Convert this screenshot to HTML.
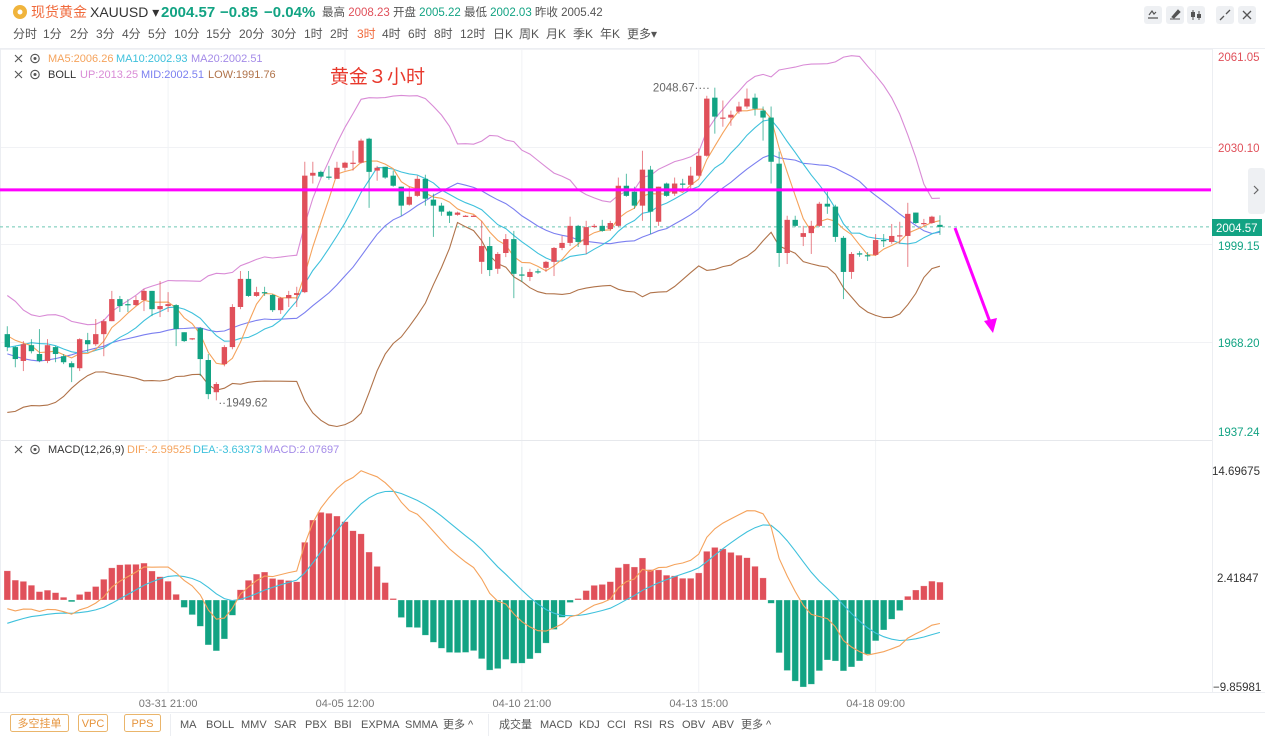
<!DOCTYPE html>
<html><head><meta charset="utf-8">
<style>
body{margin:0;background:#fff;width:1265px;height:736px;overflow:hidden;font-family:"Liberation Sans","Noto Sans CJK SC",sans-serif;}
svg{display:block}
text{font-family:"Liberation Sans","Noto Sans CJK SC",sans-serif;}
</style></head>
<body>
<svg id="chart" width="1265" height="736" viewBox="0 0 1265 736" xmlns="http://www.w3.org/2000/svg">
<rect x="0" y="0" width="1265" height="736" fill="#fff"/>
<g>
<circle cx="20" cy="12" r="7" fill="#f0b43c"/>
<circle cx="20" cy="12" r="2.5" fill="#fff"/>
<text x="31" y="17" font-size="14" fill="#f06a3c">现货黄金</text>
<text x="90" y="17" font-size="14" fill="#333">XAUUSD ▾</text>
<text x="161" y="17" font-size="15" font-weight="bold" fill="#12a383">2004.57</text>
<text x="220" y="17" font-size="15" font-weight="bold" fill="#12a383">−0.85</text>
<text x="264" y="17" font-size="15" font-weight="bold" fill="#12a383">−0.04%</text>
<text x="322" y="16" font-size="11.5" fill="#555">最高 <tspan fill="#e0505a">2008.23</tspan> 开盘 <tspan fill="#12a383">2005.22</tspan> 最低 <tspan fill="#12a383">2002.03</tspan> 昨收 <tspan fill="#555">2005.42</tspan></text>
</g>
<g font-size="12" fill="#555">
<text x="13" y="38">分时</text>
<text x="43" y="38">1分</text>
<text x="70" y="38">2分</text>
<text x="96" y="38">3分</text>
<text x="122" y="38">4分</text>
<text x="148" y="38">5分</text>
<text x="174" y="38">10分</text>
<text x="206" y="38">15分</text>
<text x="239" y="38">20分</text>
<text x="271" y="38">30分</text>
<text x="304" y="38">1时</text>
<text x="330" y="38">2时</text>
<text x="357" y="38" fill="#f06a3c">3时</text>
<text x="382" y="38">4时</text>
<text x="408" y="38">6时</text>
<text x="434" y="38">8时</text>
<text x="460" y="38">12时</text>
<text x="493" y="38">日K</text>
<text x="519" y="38">周K</text>
<text x="546" y="38">月K</text>
<text x="573" y="38">季K</text>
<text x="600" y="38">年K</text>
<text x="627" y="38">更多▾</text>
</g>
<g>
<rect x="1144" y="6" width="18" height="18" rx="3" fill="#eef0f3"/>
<rect x="1166" y="6" width="18" height="18" rx="3" fill="#eef0f3"/>
<rect x="1187" y="6" width="18" height="18" rx="3" fill="#eef0f3"/>
<rect x="1216" y="6" width="18" height="18" rx="3" fill="#eef0f3"/>
<rect x="1238" y="6" width="18" height="18" rx="3" fill="#eef0f3"/>
<path d="M1148 18h10M1149 15l3-4 2 3 2-2" stroke="#555" fill="none" stroke-width="1.2"/>
<path d="M1170 19h10M1172 17l6-7 2 2-6 6z" stroke="#555" fill="#555" stroke-width="1"/>
<path d="M1193 10v10M1199 11v9" stroke="#555" stroke-width="1"/><rect x="1191" y="12" width="4" height="5" fill="#555"/><rect x="1197" y="14" width="4" height="4" fill="#555"/>
<path d="M1220 20l4-4M1230 10l-4 4" stroke="#555" stroke-width="1.3"/>
<path d="M1243 11l8 8M1251 11l-8 8" stroke="#555" stroke-width="1.3"/>
</g>
<line x1="0" y1="48.5" x2="1265" y2="48.5" stroke="#eceef2"/>
<g id="grid"></g>
<g id="mainPane"></g>
<g id="macdPane"></g>
<g font-size="11">
<path d="M15 55l7 7M22 55l-7 7" stroke="#555" stroke-width="1.1"/>
<circle cx="35" cy="58.5" r="4.2" fill="none" stroke="#555" stroke-width="1.1"/><circle cx="35" cy="58.5" r="1.5" fill="#555"/>
<text x="48" y="62" fill="#f5a35c">MA5:2006.26</text>
<text x="116" y="62" fill="#3fc1dc">MA10:2002.93</text>
<text x="191" y="62" fill="#a48be8">MA20:2002.51</text>
</g>
<g font-size="11">
<path d="M15 71l7 7M22 71l-7 7" stroke="#555" stroke-width="1.1"/>
<circle cx="35" cy="74.5" r="4.2" fill="none" stroke="#555" stroke-width="1.1"/><circle cx="35" cy="74.5" r="1.5" fill="#555"/>
<text x="48" y="78" fill="#333">BOLL</text>
<text x="80" y="78" fill="#d98bd6">UP:2013.25</text>
<text x="141" y="78" fill="#7b7ff0">MID:2002.51</text>
<text x="208" y="78" fill="#b0734a">LOW:1991.76</text>
</g>
<text x="330" y="83" font-size="19" fill="#e8382c">黄金３小时</text>
<g font-size="11">
<path d="M15 446l7 7M22 446l-7 7" stroke="#555" stroke-width="1.1"/>
<circle cx="35" cy="449.5" r="4.2" fill="none" stroke="#555" stroke-width="1.1"/><circle cx="35" cy="449.5" r="1.5" fill="#555"/>
<text x="48" y="453" fill="#333">MACD(12,26,9)</text>
<text x="127" y="453" fill="#f5a35c">DIF:-2.59525</text>
<text x="193" y="453" fill="#3fc1dc">DEA:-3.63373</text>
<text x="264" y="453" fill="#a48be8">MACD:2.07697</text>
</g>
<line x1="1212.5" y1="49" x2="1212.5" y2="692" stroke="#eceef2"/>
<g font-size="11.5">
<text x="1218" y="61" fill="#e0505a">2061.05</text>
<text x="1218" y="152" fill="#e0505a">2030.10</text>
<text x="1218" y="250" fill="#12a383">1999.15</text>
<text x="1218" y="347" fill="#12a383">1968.20</text>
<text x="1218" y="436" fill="#12a383">1937.24</text>
</g>
<rect x="1212" y="219" width="50" height="17" fill="#12a383"/>
<text x="1216" y="232" font-size="11.5" fill="#fff">2004.57</text>
<rect x="1248" y="168" width="17" height="46" rx="3" fill="#eef0f3"/>
<path d="M1254 186l4 4-4 4" stroke="#666" fill="none" stroke-width="1.2"/>
<g font-size="11.5" fill="#333">
<text x="1212" y="475">14.69675</text>
<text x="1217" y="582">2.41847</text>
<text x="1213" y="691">−9.85981</text>
</g>
<line x1="0" y1="692.5" x2="1265" y2="692.5" stroke="#eceef2"/>
<line x1="0" y1="712.5" x2="1265" y2="712.5" stroke="#eceef2"/>
<g id="timeAxis" font-size="11" fill="#777"></g>
<g font-size="11">
<rect x="10.5" y="714.5" width="58" height="17" rx="2" fill="#fff" stroke="#eab56b"/>
<text x="39.5" y="727" text-anchor="middle" fill="#e6943c">多空挂单</text>
<rect x="78.5" y="714.5" width="29" height="17" rx="2" fill="#fff" stroke="#eab56b"/>
<text x="93" y="727" text-anchor="middle" fill="#e6943c">VPC</text>
<rect x="124.5" y="714.5" width="36" height="17" rx="2" fill="#fff" stroke="#eab56b"/>
<text x="142.5" y="727" text-anchor="middle" fill="#e6943c">PPS</text>
<line x1="170.5" y1="714" x2="170.5" y2="736" stroke="#eceef2"/>
<g fill="#555">
<text x="180" y="728">MA</text>
<text x="206" y="728">BOLL</text>
<text x="241" y="728">MMV</text>
<text x="274" y="728">SAR</text>
<text x="305" y="728">PBX</text>
<text x="334" y="728">BBI</text>
<text x="361" y="728">EXPMA</text>
<text x="405" y="728">SMMA</text>
<text x="443" y="728">更多 ^</text>
<text x="499" y="728">成交量</text>
<text x="540" y="728">MACD</text>
<text x="579" y="728">KDJ</text>
<text x="607" y="728">CCI</text>
<text x="634" y="728">RSI</text>
<text x="659" y="728">RS</text>
<text x="682" y="728">OBV</text>
<text x="712" y="728">ABV</text>
<text x="741" y="728">更多 ^</text>
</g>
<line x1="488.5" y1="714" x2="488.5" y2="736" stroke="#eceef2"/>
</g>
</svg>
<script>
// OHLC data [open, high, low, close]
const priorCloses=[1978,1982,1975,1968,1960,1955,1950,1948,1952,1955,1958,1962,1960,1965,1968,1970,1972,1969,1973];
const ohlc=[
[1970.6,1973.1,1965.2,1966.5],[1966.5,1966.8,1960.1,1962.7],[1962.1,1968.4,1958.9,1967.4],[1967.1,1969.0,1964.5,1965.2],
[1964.3,1972.2,1961.7,1962.1],[1962.1,1969.0,1961.4,1967.1],[1966.5,1966.8,1961.7,1964.3],[1963.6,1964.3,1961.1,1961.7],
[1961.4,1962.0,1955.4,1960.1],[1959.8,1969.3,1958.9,1969.0],[1968.7,1971.0,1964.9,1967.4],[1967.4,1975.4,1966.8,1970.6],
[1970.6,1975.4,1963.6,1974.7],[1974.7,1984.3,1974.7,1981.7],[1981.7,1982.7,1977.6,1979.5],[1980.1,1981.7,1977.6,1979.8],
[1979.8,1982.7,1979.5,1981.4],[1981.4,1984.9,1977.9,1984.3],[1984.3,1984.3,1976.3,1978.5],[1978.5,1987.4,1976.0,1979.5],
[1979.5,1983.9,1977.6,1980.1],[1979.8,1980.1,1966.8,1972.2],[1971.2,1971.2,1968.1,1968.4],[1969.0,1969.3,1968.7,1969.3],
[1972.5,1972.8,1957.3,1962.7],[1962.4,1964.3,1950.0,1951.6],[1952.2,1955.4,1949.62,1954.8],[1961.1,1967.1,1960.4,1966.5],
[1966.5,1980.1,1965.8,1979.2],[1979.2,1990.6,1978.5,1988.1],[1988.1,1990.6,1982.4,1982.7],[1982.7,1985.6,1982.4,1983.9],
[1983.9,1985.6,1982.7,1983.6],[1983.0,1983.3,1977.6,1978.2],[1978.2,1982.4,1977.0,1982.0],[1982.0,1984.3,1979.2,1983.0],
[1983.0,1985.6,1979.2,1983.6],[1983.9,2025.2,1983.6,2020.8],[2020.8,2025.2,2018.3,2021.7],[2022.0,2022.4,2020.2,2020.5],
[2020.5,2023.9,2019.5,2020.2],[2019.8,2025.2,2019.8,2023.3],[2023.3,2025.2,2022.4,2024.9],[2024.9,2028.7,2022.4,2024.9],
[2024.9,2032.5,2024.6,2031.9],[2032.5,2032.8,2010.6,2022.0],[2022.4,2023.9,2019.2,2023.3],[2023.6,2023.6,2019.8,2020.2],
[2020.8,2022.4,2017.3,2017.6],[2017.3,2017.3,2008.1,2011.3],[2011.6,2017.3,2011.3,2014.1],[2014.4,2020.8,2014.1,2019.8],
[2019.8,2021.1,2011.3,2013.5],[2013.2,2015.1,2001.4,2011.3],[2011.3,2012.2,2008.1,2009.4],[2009.4,2009.7,2005.8,2008.1],
[2008.4,2009.4,2008.1,2009.1],[2008.0,2008.3,2008.0,2008.1],[2008.0,2008.3,2008.0,2008.1],[1993.5,2006.5,1989.7,1998.5],
[1998.5,2001.4,1989.0,1990.9],[1991.3,1996.6,1989.7,1996.0],[1996.3,2002.3,1995.0,2000.7],[2000.7,2003.3,1982.0,1989.7],
[1989.5,1991.9,1987.1,1989.3],[1988.7,1991.3,1987.4,1990.3],[1990.5,1991.3,1989.7,1990.3],[1991.6,1993.8,1990.3,1993.5],
[1993.5,1998.2,1989.0,1997.9],[1997.9,2001.7,1997.2,1999.5],[1999.5,2007.8,1998.5,2004.9],[2004.9,2005.2,1998.2,1999.8],
[1998.8,2006.5,1996.0,2004.5],[2004.7,2005.5,2004.2,2004.9],[2004.9,2006.8,2003.0,2003.3],[2003.9,2006.5,2003.3,2005.8],
[2004.9,2020.2,2004.5,2017.6],[2017.6,2021.4,2014.1,2014.4],[2015.7,2017.3,2010.3,2011.3],[2011.3,2028.7,2006.5,2022.7],
[2022.7,2023.9,2002.3,2009.4],[2006.2,2017.3,2004.9,2017.3],[2018.3,2018.6,2014.1,2014.4],[2015.1,2020.2,2014.4,2018.3],
[2018.3,2019.8,2016.7,2018.0],[2017.9,2023.6,2016.0,2020.8],[2020.8,2029.4,2020.5,2027.1],[2027.1,2046.1,2026.8,2045.2],
[2045.5,2048.67,2034.1,2039.5],[2039.2,2044.6,2036.3,2039.2],[2039.2,2041.4,2036.6,2040.1],[2041.1,2044.2,2040.4,2042.7],
[2042.7,2048.4,2042.0,2045.2],[2045.5,2046.8,2039.8,2042.0],[2041.4,2042.7,2031.9,2039.2],[2039.2,2042.7,2018.3,2025.2],
[2024.6,2028.4,1991.9,1996.3],[1996.3,2008.1,1992.8,2006.8],[2006.8,2008.1,2004.5,2004.9],[2001.4,2004.9,1998.5,2002.6],
[2002.6,2006.5,1996.0,2004.9],[2004.9,2012.5,2004.5,2011.9],[2011.9,2015.7,2008.7,2011.0],[2011.0,2011.6,1999.8,2001.4],
[2001.1,2001.7,1981.7,1990.3],[1990.3,1996.6,1988.1,1996.0],[1996.2,1996.9,1995.1,1995.8],[1995.6,1996.6,1993.8,1995.3],
[1995.7,2002.3,1995.4,2000.4],[2000.4,2002.3,1998.2,2000.2],[1999.8,2005.5,1999.2,2001.7],[2001.6,2006.2,1999.2,2001.9],
[2001.7,2012.2,1991.9,2008.7],[2009.1,2009.1,2005.5,2005.8],[2005.8,2007.1,2004.9,2005.8],[2005.8,2008.1,2005.5,2007.8],
[2005.22,2008.23,2002.03,2004.57]];
const timeLabels=["03-31 21:00","04-05 12:00","04-10 21:00","04-13 15:00","04-18 09:00"];
const timeLabelIdx=[20,42,64,86,108];
const lastPrice=2004.57;
const resistanceLevel=2016.3;

const NS="http://www.w3.org/2000/svg";
const xOf=i=>7.3+i*8.04;
const yP=p=>244-(p-1999.15)*3.157;
const yM=v=>600-v*8.76;
const RED="#e0505a",GREEN="#12a383";
function mk(tag,attrs,parent){const e=document.createElementNS(NS,tag);for(const k in attrs)e.setAttribute(k,attrs[k]);parent.appendChild(e);return e;}

const grid=document.getElementById('grid');
[49,147,244,342].forEach(y=>{const l=mk('line',{x1:0,x2:1212,y1:y+.5,y2:y+.5,stroke:'#f1f2f5'},grid);

});
timeLabelIdx.forEach(i=>{const l=mk('line',{x1:xOf(i),x2:xOf(i),y1:49,y2:692,stroke:'#f1f2f5'},grid);

});
mk('line',{x1:0,x2:1212,y1:440.5,y2:440.5,stroke:'#e6e8ec'},grid);
mk('line',{x1:0.5,x2:0.5,y1:49,y2:692,stroke:'#eceef2'},grid);

const closes=ohlc.map(d=>d[3]);
const all=priorCloses.concat(closes);
const off=priorCloses.length;
function ma(n,i){const j=i+off;const s=all.slice(Math.max(0,j-n+1),j+1);return s.reduce((a,b)=>a+b,0)/s.length;}
function sd(n,i){const j=i+off;const s=all.slice(Math.max(0,j-n+1),j+1);const m=s.reduce((a,b)=>a+b,0)/s.length;return Math.sqrt(s.reduce((a,b)=>a+(b-m)*(b-m),0)/s.length);}

const main=document.getElementById('mainPane');
mk('line',{x1:0,x2:1212,y1:yP(lastPrice),y2:yP(lastPrice),stroke:'#6cc7b3','stroke-dasharray':'3,3'},main);
function poly(vals,color,w,name){const pts=vals.map((v,i)=>xOf(i).toFixed(1)+','+v.toFixed(1)).join(' ');
const p=mk('polyline',{points:pts,fill:'none',stroke:color,'stroke-width':w},main);

}
const idx=closes.map((c,i)=>i);
poly(idx.map(i=>yP(ma(20,i)+2*sd(20,i))),'#d98bd6',1.1,'boll-up-line');
poly(idx.map(i=>yP(ma(20,i)-2*sd(20,i))),'#b0734a',1.1,'boll-low-line');
poly(idx.map(i=>yP(ma(20,i))),'#7b7ff0',1.1,'boll-mid-line');
poly(idx.map(i=>yP(ma(10,i))),'#3fc1dc',1.1,'ma10-line');
poly(idx.map(i=>yP(ma(5,i))),'#f5a35c',1.1,'ma5-line');

ohlc.forEach((d,i)=>{const [o,h,l,c]=d;const up=c>=o;const col=up?RED:GREEN;const x=xOf(i);
const g=mk('g',{},main);


mk('line',{x1:x,x2:x,y1:yP(h),y2:yP(l),stroke:col,'stroke-width':1,opacity:0.7},g);
const t=yP(Math.max(o,c)),b=yP(Math.min(o,c));
mk('rect',{x:x-2.7,y:t,width:5.4,height:Math.max(1.2,b-t),fill:col},g);});

let hi=0,lo=0;ohlc.forEach((d,i)=>{if(d[1]>ohlc[hi][1])hi=i;if(d[2]<ohlc[lo][2])lo=i;});
const hT=mk('text',{x:xOf(hi)-5,y:yP(ohlc[hi][1])+4,'font-size':11.5,fill:'#666','text-anchor':'end'},main);
hT.textContent=ohlc[hi][1].toFixed(2)+'····';


const lT=mk('text',{x:xOf(lo)+2,y:yP(ohlc[lo][2])+6,'font-size':11.5,fill:'#666'},main);
lT.textContent='··'+ohlc[lo][2].toFixed(2);



const rl=mk('line',{x1:0,x2:1211,y1:yP(resistanceLevel),y2:yP(resistanceLevel),stroke:'#ff00ff','stroke-width':3},main);


const ar=mk('g',{},main);


mk('line',{x1:955,y1:228,x2:990,y2:322,stroke:'#ff00ff','stroke-width':3},ar);
mk('polygon',{points:'984,321 997,318 993,333',fill:'#ff00ff'},ar);

const dif=[],dea=[],hist=[];
let e12=all[0],e26=all[0],d9=0;
all.forEach((c,j)=>{e12=e12*11/13+c*2/13;e26=e26*25/27+c*2/27;const df=e12-e26;d9=d9*8/10+df*2/10;
if(j>=off){dif.push(df);dea.push(d9);hist.push(2*(df-d9));}});
const mp=document.getElementById('macdPane');
hist.forEach((v,i)=>{const x=xOf(i);const y0=yM(0),y1=yM(v);
const r=mk('rect',{x:x-3.3,y:Math.min(y0,y1),width:6.6,height:Math.max(1,Math.abs(y1-y0)),fill:v>=0?RED:GREEN,stroke:'#fff','stroke-opacity':0.5,'stroke-width':0.6},mp);

});
function mpoly(vals,color,name){const p=mk('polyline',{points:vals.map((v,i)=>xOf(i).toFixed(1)+','+yM(v).toFixed(1)).join(' '),fill:'none',stroke:color,'stroke-width':1.1},mp);

}
mpoly(dea,'#3fc1dc','dea-line');
mpoly(dif,'#f5a35c','dif-line');

const ta=document.getElementById('timeAxis');
timeLabels.forEach((t,k)=>{const e=mk('text',{x:xOf(timeLabelIdx[k]),y:707,'text-anchor':'middle'},ta);e.textContent=t;

});
</script>
</body></html>
